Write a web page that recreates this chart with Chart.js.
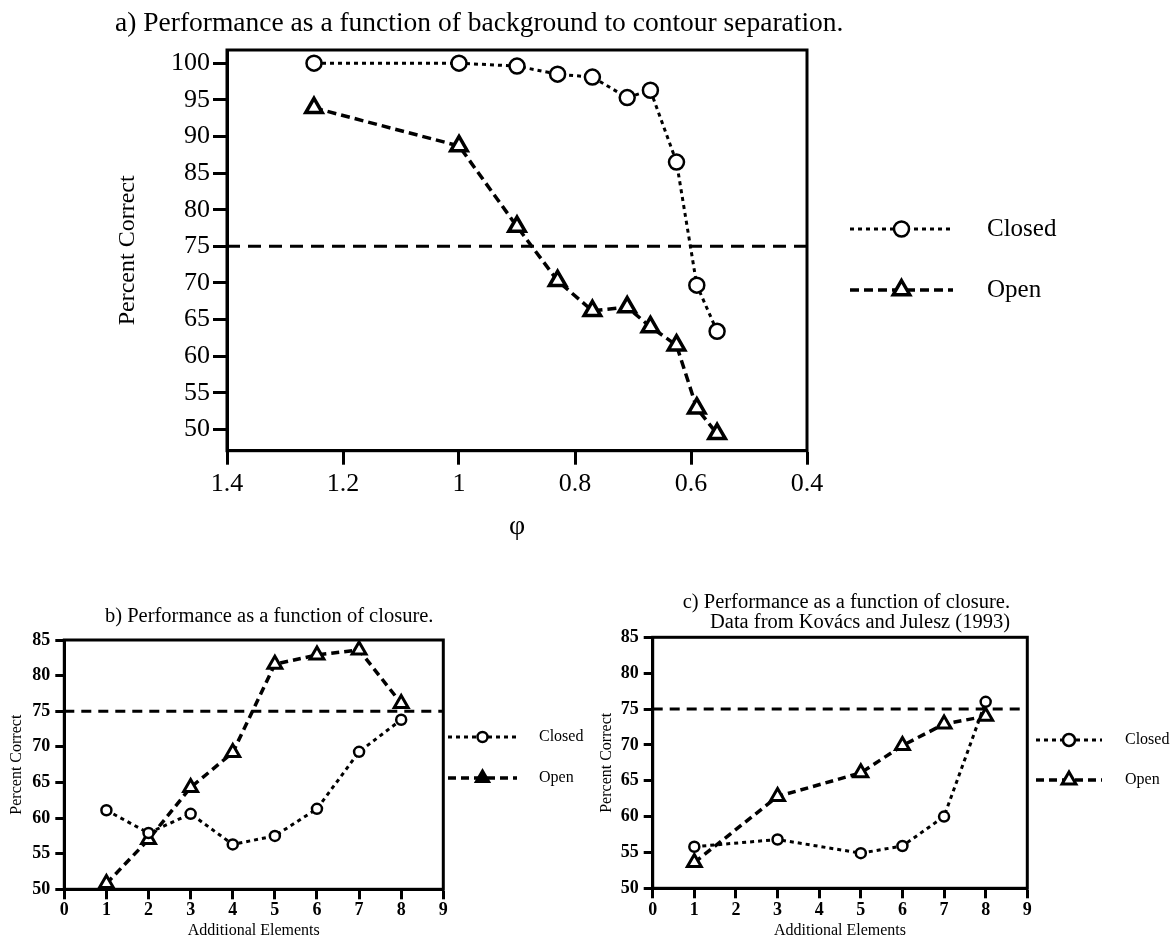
<!DOCTYPE html>
<html>
<head>
<meta charset="utf-8">
<title>Performance as a function of closure</title>
<script src="https://cdn.jsdelivr.net/npm/chart.js@4.4.0/dist/chart.umd.min.js"></script>
<style>
  body { margin: 0; background: #fff; overflow: hidden; }
  canvas { position: absolute; }
</style>
</head>
<body>
<canvas id="chartA" width="1176" height="560" style="left:0;top:0"></canvas>
<canvas id="chartB" width="590" height="360" style="left:0;top:580px"></canvas>
<canvas id="chartC" width="596" height="360" style="left:580px;top:580px"></canvas>

<script>
var serif = "'Liberation Serif', 'Times New Roman', serif";

// a) background to contour separation
var phiValues = [1.25, 1.0, 0.9, 0.83, 0.77, 0.71, 0.67, 0.625, 0.59, 0.555];
var closedA = [100, 100, 99.6, 98.5, 98.1, 95.3, 96.3, 86.5, 69.7, 63.4];
var openA = [93.9, 88.7, 77.7, 70.3, 66.2, 66.7, 64.0, 61.5, 52.9, 49.4];
var phiTicks = [1.4, 1.2, 1, 0.8, 0.6, 0.4];
var percentTicksA = [50, 55, 60, 65, 70, 75, 80, 85, 90, 95, 100];

// b) closure
var elementsB = [1, 2, 3, 4, 5, 6, 7, 8];
var closedB = [61.1, 57.9, 60.6, 56.3, 57.5, 61.3, 69.3, 73.8];
var openB = [50.8, 57.0, 64.3, 69.2, 81.6, 82.9, 83.6, 76.1];

// c) Kovacs and Julesz (1993)
var elementsC = [1, 3, 5, 6, 7, 8];
var closedC = [55.8, 56.8, 54.9, 55.9, 60.0, 76.0];
var openC = [53.6, 62.8, 66.1, 69.9, 72.9, 74.0];

var elementTicks = [0, 1, 2, 3, 4, 5, 6, 7, 8, 9];
var percentTicks = [50, 55, 60, 65, 70, 75, 80, 85];
var threshold = 75;

Chart.defaults.color = '#000';
Chart.defaults.font.family = serif;

function points(xs, ys) {
  return xs.map(function (x, i) { return { x: x, y: ys[i] }; });
}

function fixedTicks(values) {
  return function (scale) {
    scale.ticks = values.map(function (v) { return { value: v }; });
  };
}

// top and right edges of the box
var framePlugin = {
  id: 'frame',
  beforeDatasetsDraw: function (chart, args, opts) {
    var a = chart.chartArea, ctx = chart.ctx;
    ctx.save();
    ctx.strokeStyle = '#000';
    ctx.lineWidth = opts.width || 3;
    ctx.strokeRect(a.left, a.top, a.right - a.left, a.bottom - a.top);
    ctx.restore();
  }
};

function drawMarker(ctx, style, r, x, y, fill) {
  ctx.beginPath();
  if (style === 'triangle') {
    ctx.moveTo(x, y - r);
    ctx.lineTo(x + 0.866 * r, y + 0.5 * r);
    ctx.lineTo(x - 0.866 * r, y + 0.5 * r);
    ctx.closePath();
  } else {
    ctx.arc(x, y, r, 0, Math.PI * 2);
  }
  ctx.fillStyle = fill;
  ctx.fill();
  ctx.stroke();
}

// panel titles and the side legend
var panelText = {
  id: 'panelText',
  afterDraw: function (chart, args, opts) {
    var ctx = chart.ctx;
    ctx.save();
    ctx.fillStyle = '#000';
    ctx.font = opts.titleFont;
    ctx.textBaseline = 'alphabetic';
    opts.lines.forEach(function (l) {
      ctx.textAlign = l.align || 'left';
      ctx.fillText(l.text, l.x, l.y);
    });

    var lg = opts.legend;
    [0, 1].forEach(function (i) {
      var ds = chart.data.datasets[i];
      var y = lg.ys[i];
      ctx.strokeStyle = '#000';
      ctx.lineWidth = ds.borderWidth;
      ctx.setLineDash(ds.borderDash);
      ctx.beginPath();
      ctx.moveTo(lg.x1, y);
      ctx.lineTo(lg.x2, y);
      ctx.stroke();
      ctx.setLineDash([]);
      ctx.lineWidth = ds.pointBorderWidth;
      drawMarker(ctx, ds.pointStyle, lg.radius[i], (lg.x1 + lg.x2) / 2, y, lg.fill[i]);
      ctx.fillStyle = '#000';
      ctx.font = lg.font;
      ctx.textAlign = 'left';
      ctx.textBaseline = 'middle';
      ctx.fillText(ds.label, lg.textX, y);
    });
    ctx.restore();
  }
};

function makeDatasets(xs, closed, open, xMin, xMax, st) {
  return [
    {
      label: 'Closed', data: points(xs, closed), showLine: true, clip: false,
      borderColor: '#000', borderWidth: st.closedWidth, borderDash: st.closedDash,
      pointStyle: 'circle', pointRadius: st.circleR, pointBorderWidth: st.circleW,
      pointBackgroundColor: '#fff', pointBorderColor: '#000'
    },
    {
      label: 'Open', data: points(xs, open), showLine: true, clip: false,
      borderColor: '#000', borderWidth: st.openWidth, borderDash: st.openDash,
      pointStyle: 'triangle', pointRadius: st.triR, pointBorderWidth: st.triW,
      pointBackgroundColor: '#fff', pointBorderColor: '#000'
    },
    {
      label: '75%', data: [{ x: xMin, y: threshold }, { x: xMax, y: threshold }],
      showLine: true, clip: false, borderColor: '#000', borderWidth: st.refWidth,
      borderDash: st.refDash, pointRadius: 0
    }
  ];
}

function axis(o) {
  return {
    type: 'linear',
    min: o.min, max: o.max, reverse: !!o.reverse,
    afterBuildTicks: fixedTicks(o.ticks),
    afterFit: function (s) { if (o.width) s.width = o.width; if (o.height) s.height = o.height; },
    ticks: {
      font: o.tickFont, color: '#000', padding: o.tickPad, autoSkip: false, maxRotation: 0,
      callback: function (v) { return String(v); }
    },
    grid: {
      display: true, drawOnChartArea: false, drawTicks: true,
      tickLength: o.tickLen, tickWidth: o.lineW, tickColor: '#000'
    },
    border: { display: true, color: '#000', width: o.lineW },
    title: { display: true, text: o.title, font: o.titleFont, color: '#000', padding: o.titlePad }
  };
}

// a) ------------------------------------------------------------
new Chart(document.getElementById('chartA'), {
  type: 'scatter',
  data: {
    datasets: makeDatasets(phiValues, closedA, openA, 1.4, 0.4, {
      closedWidth: 3, closedDash: [4, 4], circleR: 7.5, circleW: 2.5,
      openWidth: 3.5, openDash: [9, 5], triR: 9.5, triW: 3.5,
      refWidth: 3, refDash: [13, 8]
    })
  },
  options: {
    responsive: false,
    animation: false,
    events: [],
    layout: { padding: { left: 113, top: 50, right: 369, bottom: 16.3 } },
    plugins: {
      legend: { display: false },
      tooltip: { enabled: false },
      frame: { width: 3 },
      panelText: {
        titleFont: '27.5px ' + serif,
        lines: [{ text: 'a) Performance as a function of background to contour separation.', x: 115, y: 31 }],
        legend: {
          x1: 850, x2: 953, textX: 987, ys: [229, 290], radius: [7.5, 9.5],
          fill: ['#fff', '#fff'], font: '25px ' + serif
        }
      }
    },
    scales: {
      x: axis({
        min: 0.4, max: 1.4, reverse: true, ticks: phiTicks, height: 93,
        tickFont: { family: serif, size: 26 }, tickPad: 4, tickLen: 14, lineW: 3,
        title: 'φ', titleFont: { family: serif, size: 28 }, titlePad: 0
      }),
      y: axis({
        min: 47.1, max: 101.8, ticks: percentTicksA, width: 114,
        tickFont: { family: serif, size: 26 }, tickPad: 3, tickLen: 14, lineW: 3,
        title: 'Percent Correct', titleFont: { family: serif, size: 24 }, titlePad: { top: 0 }
      })
    }
  },
  plugins: [framePlugin, panelText]
});

// b) ------------------------------------------------------------
var smallStyle = {
  closedWidth: 3, closedDash: [4, 4], circleR: 5, circleW: 2.5,
  openWidth: 3.5, openDash: [8, 5], triR: 8, triW: 3,
  refWidth: 3, refDash: [10, 7]
};

new Chart(document.getElementById('chartB'), {
  type: 'scatter',
  data: { datasets: makeDatasets(elementsB, closedB, openB, 0, 9, smallStyle) },
  options: {
    responsive: false,
    animation: false,
    events: [],
    layout: { padding: { left: 0, top: 60, right: 146.7, bottom: 0 } },
    plugins: {
      legend: { display: false },
      tooltip: { enabled: false },
      frame: { width: 3 },
      panelText: {
        titleFont: '20.5px ' + serif,
        lines: [{ text: 'b) Performance as a function of closure.', x: 105, y: 42 }],
        legend: {
          x1: 448, x2: 517, textX: 539, ys: [157, 198], radius: [5, 7],
          fill: ['#fff', '#000'], font: '16px ' + serif
        }
      }
    },
    scales: {
      x: axis({
        min: 0, max: 9, ticks: elementTicks, height: 50.7,
        tickFont: { family: serif, size: 18, weight: 'bold', lineHeight: 1 }, tickPad: 2, tickLen: 10, lineW: 3,
        title: 'Additional Elements', titleFont: { family: serif, size: 16 }, titlePad: 0
      }),
      y: axis({
        min: 50, max: 85, ticks: percentTicks, width: 64.3,
        tickFont: { family: serif, size: 18, weight: 'bold' }, tickPad: 5, tickLen: 9, lineW: 3,
        title: 'Percent Correct', titleFont: { family: serif, size: 16 }, titlePad: { top: 7.4 }
      })
    }
  },
  plugins: [framePlugin, panelText]
});

// c) ------------------------------------------------------------
new Chart(document.getElementById('chartC'), {
  type: 'scatter',
  data: { datasets: makeDatasets(elementsC, closedC, openC, 0, 9, smallStyle) },
  options: {
    responsive: false,
    animation: false,
    events: [],
    layout: { padding: { left: 0, top: 57.3, right: 148.7, bottom: 0 } },
    plugins: {
      legend: { display: false },
      tooltip: { enabled: false },
      frame: { width: 3 },
      panelText: {
        titleFont: '20.5px ' + serif,
        lines: [
          { text: 'c) Performance as a function of closure.', x: 430, y: 28, align: 'right' },
          { text: 'Data from Kovács and Julesz (1993)', x: 430, y: 48, align: 'right' }
        ],
        legend: {
          x1: 456, x2: 522, textX: 545, ys: [160, 200], radius: [6, 8],
          fill: ['#fff', '#fff'], font: '16px ' + serif
        }
      }
    },
    scales: {
      x: axis({
        min: 0, max: 9, ticks: elementTicks, height: 51.7,
        tickFont: { family: serif, size: 18, weight: 'bold', lineHeight: 1 }, tickPad: 3, tickLen: 10, lineW: 3,
        title: 'Additional Elements', titleFont: { family: serif, size: 16 }, titlePad: 0
      }),
      y: axis({
        min: 50, max: 85, ticks: percentTicks, width: 72.7,
        tickFont: { family: serif, size: 18, weight: 'bold' }, tickPad: 5, tickLen: 9, lineW: 3,
        title: 'Percent Correct', titleFont: { family: serif, size: 16 }, titlePad: { top: 17 }
      })
    }
  },
  plugins: [framePlugin, panelText]
});
</script>
</body>
</html>
